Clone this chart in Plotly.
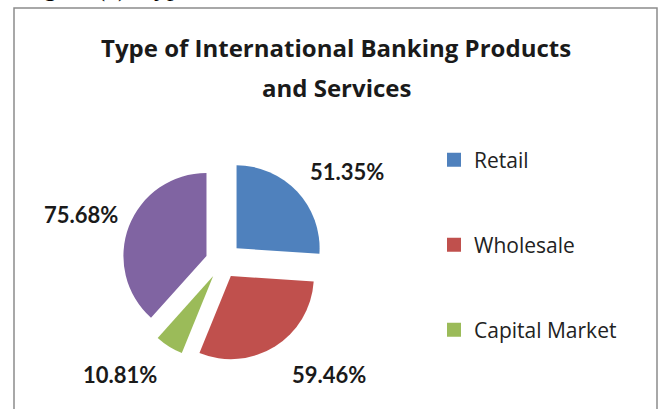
import plotly.graph_objects as go

# Survey shares of international banking products and services
categories = ["Retail", "Wholesale", "Capital Market", "Other"]
values = [51.35, 59.46, 10.81, 75.68]
colors = ["#4F81BD", "#C0504D", "#9BBB59", "#8064A2"]
legend_items = ["Retail", "Wholesale", "Capital Market"]
title_lines = ["Type of International Banking Products", "and Services"]

W, H = 668, 409


def px_x(x):
    return x / W


def px_y(y):
    return 1 - y / H


fig = go.Figure()

# Exploded pie, first slice starting at 12 o'clock, drawn clockwise
pie_cx, pie_cy, pie_box = 222, 262, 206
fig.add_trace(go.Pie(
    labels=categories,
    values=values,
    sort=False,
    direction="clockwise",
    rotation=0,
    pull=[0.24, 0.2, 0.2, 0.2],
    marker=dict(colors=colors, line=dict(width=0)),
    textinfo="none",
    hoverinfo="label+value",
    showlegend=False,
    domain=dict(
        x=[px_x(pie_cx - pie_box / 2), px_x(pie_cx + pie_box / 2)],
        y=[px_y(pie_cy + pie_box / 2), px_y(pie_cy - pie_box / 2)],
    ),
))

# Legend entries (one legend per item so they sit far apart)
legend_names = ["legend", "legend2", "legend3"]
legend_rows = [160, 245, 330]
for name, col, lg in zip(legend_items, colors, legend_names):
    fig.add_trace(go.Scatter(
        x=[None], y=[None], mode="markers", name=name,
        marker=dict(symbol="square", size=14, color=col),
        legend=lg, showlegend=True,
    ))

legend_font = dict(family="Open Sans", size=21, color="#222222")
legend_layout = {}
for lg, row in zip(legend_names, legend_rows):
    legend_layout[lg] = dict(
        x=px_x(434), y=px_y(row), xanchor="left", yanchor="middle",
        font=legend_font, bgcolor="rgba(0,0,0,0)", borderwidth=0,
        itemwidth=30, itemclick=False, itemdoubleclick=False,
    )

# Value labels around the pie
label_pos = [(347, 172), (329, 374), (120, 374), (81, 214)]
annotations = []
for v, (lx, ly) in zip(values, label_pos):
    annotations.append(dict(
        text=f"{v:.2f}%", x=px_x(lx), y=px_y(ly), xref="paper", yref="paper",
        xanchor="center", yanchor="middle", showarrow=False,
        font=dict(family="Lato", size=22, color="#1a1a1a", weight="bold"),
    ))

# Chart title, two lines
for line, ty in zip(title_lines, [48, 87]):
    annotations.append(dict(
        text=line, x=px_x(336), y=px_y(ty), xref="paper", yref="paper",
        xanchor="center", yanchor="middle", showarrow=False,
        font=dict(family="Open Sans", size=24, color="#1a1a1a", weight="bold"),
    ))

# Figure caption above the chart frame
annotations.append(dict(
    text="Figure (3): Types of Products and Services",
    x=px_x(20), y=px_y(4), xref="paper", yref="paper",
    xanchor="left", yanchor="bottom", showarrow=False,
    font=dict(family="Liberation Serif", size=26, color="#000000"),
))

fig.update_layout(
    width=W, height=H,
    margin=dict(l=0, r=0, t=0, b=0),
    paper_bgcolor="white", plot_bgcolor="white",
    xaxis=dict(visible=False), yaxis=dict(visible=False),
    annotations=annotations,
    shapes=[dict(
        type="rect", xref="paper", yref="paper",
        x0=px_x(14), x1=px_x(657), y0=px_y(440), y1=px_y(8),
        line=dict(color="#8c8c8c", width=1.5), fillcolor="rgba(0,0,0,0)",
    )],
    **legend_layout,
)

fig.write_html("out.html")
